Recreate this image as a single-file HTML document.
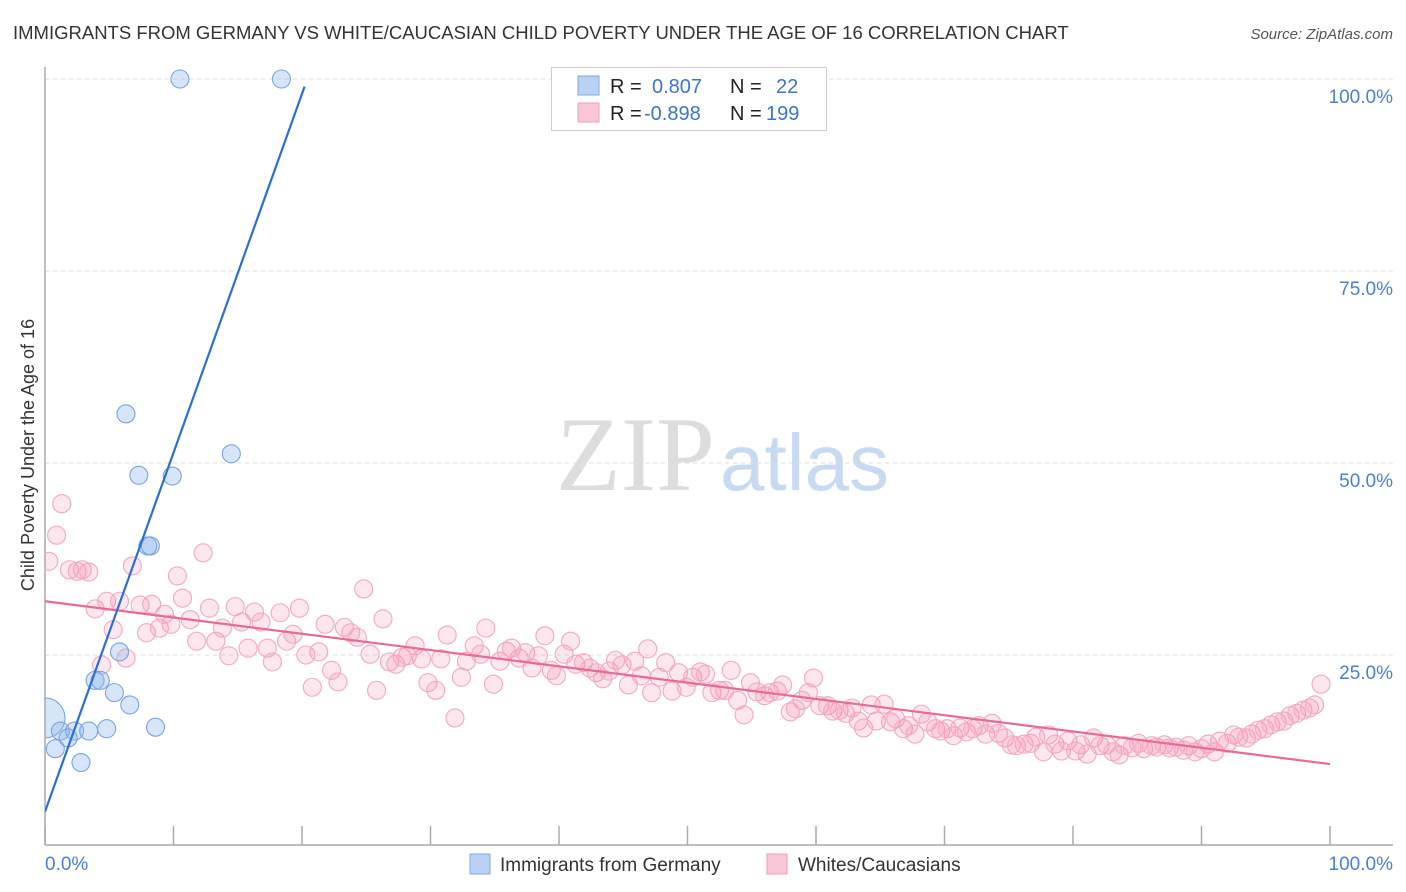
<!DOCTYPE html>
<html><head><meta charset="utf-8">
<style>
body{margin:0;background:#fff;font-family:"Liberation Sans",sans-serif;}
svg{display:block}
</style></head>
<body>
<svg id="chart" width="1406" height="892">
<defs><clipPath id="plotclip"><rect x="45" y="60" width="1350" height="785"/></clipPath></defs>
<text x="13" y="39" font-size="18.5" fill="#333">IMMIGRANTS FROM GERMANY VS WHITE/CAUCASIAN CHILD POVERTY UNDER THE AGE OF 16 CORRELATION CHART</text>
<text x="1393" y="39" font-size="15" fill="#555" font-style="italic" text-anchor="end">Source: ZipAtlas.com</text>
<text transform="translate(34,455) rotate(-90)" font-size="18" fill="#333" text-anchor="middle">Child Poverty Under the Age of 16</text>
<g>
<text x="715" y="490" font-size="106" fill="#ddd" font-family="Liberation Serif,serif" text-anchor="end">ZIP</text>
<text x="720" y="490" font-size="80" fill="#c8daf2">atlas</text>
</g>
<g id="grid"></g>
<g id="axes"></g>
<g id="marks" clip-path="url(#plotclip)"></g>
<g>
<rect x="551.5" y="67.5" width="275" height="63" fill="#fff" stroke="#ccc"/>
<rect x="578" y="76" width="21" height="19" fill="#b9d1f3" stroke="#7fa6e3"/>
<rect x="578" y="103" width="21" height="19" fill="#f8c6d6" stroke="#eea0ba"/>
<text x="610" y="93" font-size="20" fill="#222">R =</text>
<text x="652" y="93" font-size="20" fill="#3a74d4">0.807</text>
<text x="730" y="93" font-size="20" fill="#222">N =</text>
<text x="776" y="93" font-size="20" fill="#3a74d4">22</text>
<text x="610" y="120" font-size="20" fill="#222">R =</text>
<text x="644" y="120" font-size="20" fill="#3a74d4">-0.898</text>
<text x="730" y="120" font-size="20" fill="#222">N =</text>
<text x="766" y="120" font-size="20" fill="#3a74d4">199</text>
</g>
<g>
<rect x="470" y="854" width="20" height="20" fill="#b9d1f3" stroke="#7fa6e3"/>
<text x="500" y="871" font-size="19" fill="#333">Immigrants from Germany</text>
<rect x="767" y="854" width="20" height="20" fill="#f8c6d6" stroke="#eea0ba"/>
<text x="798" y="871" font-size="19" fill="#333">Whites/Caucasians</text>
</g>
</svg>
<script>
const yTicks=[25,50,75,100];
const yTickLabels=["25.0%","50.0%","75.0%","100.0%"];
const xTickVals=[0,10,20,30,40,50,60,70,80,90,100];
const xEndLabels=["0.0%","100.0%"];
const blueX=[10.5,18.4,6.3,14.5,7.3,9.9,8.0,8.2,5.8,3.9,4.3,5.4,6.6,0,1.2,2.3,3.4,4.8,8.6,1.8,0.8,2.8];
const blueY=[100,100,56.4,51.2,48.4,48.3,39.2,39.2,25.4,21.7,21.7,20.1,18.5,16.8,15.1,15.1,15.1,15.4,15.6,14.2,12.8,11.0];
const blueR=[9,9,9,9,9,9,9,9,9,9,9,9,9,20,9,9,9,9,9,9,9,9];
const blueTrend=[[0,4.6],[20.2,99.0]];
const pinkTrend=[[0,32.0],[100,10.8]];
const pinkX=[0.3,0.9,1.3,1.9,2.5,2.9,3.4,3.9,4.4,4.8,5.3,5.8,6.3,6.8,7.4,7.9,8.3,8.9,9.3,9.8,10.3,10.7,11.3,11.8,12.3,12.8,13.3,13.8,14.3,14.8,15.3,15.8,16.3,16.8,17.3,17.7,18.3,18.8,19.3,19.8,20.3,20.8,21.3,21.8,22.3,22.8,23.3,23.8,24.3,24.8,25.3,25.8,26.3,26.8,27.3,27.8,28.2,28.8,29.3,29.8,30.4,30.8,31.3,31.9,32.4,32.8,33.4,33.9,34.3,34.9,35.4,35.9,36.3,36.9,37.4,37.9,38.4,38.9,39.4,39.8,40.4,40.9,41.3,41.9,42.4,42.9,43.4,43.9,44.4,44.9,45.4,45.9,46.4,46.9,47.2,47.8,48.3,48.8,49.3,49.9,50.4,51.0,51.4,51.9,52.5,52.9,53.4,53.9,54.4,54.9,55.4,56.0,56.4,57.0,57.4,58.0,58.4,58.9,59.4,59.8,60.3,60.9,61.3,61.8,62.3,62.8,63.3,63.7,64.3,64.7,65.3,65.8,66.2,66.8,67.2,67.7,68.2,68.7,69.3,69.7,70.2,70.7,71.2,71.7,72.2,72.7,73.2,73.7,74.2,74.7,75.2,75.6,76.2,76.7,77.1,77.7,78.1,78.6,79.1,79.6,80.2,80.6,81.1,81.6,82.1,82.6,83.1,83.6,84.0,84.6,85.1,85.5,86.1,86.5,87.1,87.5,88.0,88.6,89.0,89.5,90.0,90.5,91.0,91.4,92.0,92.5,92.9,93.5,93.9,94.4,94.9,95.4,95.9,96.4,96.9,97.4,97.9,98.4,98.8,99.3];
const pinkY=[37.2,40.6,44.7,36.1,35.9,36.1,35.8,31.0,23.7,32.0,28.3,32.0,24.6,36.6,31.5,27.9,31.6,28.5,30.3,29.0,35.3,32.4,29.6,26.8,38.3,31.1,26.8,28.5,24.9,31.3,29.3,25.9,30.6,29.3,25.9,24.1,30.5,26.8,27.7,31.1,25.0,20.8,25.4,29.0,23.0,21.5,28.6,27.9,27.3,33.6,25.1,20.4,29.7,24.1,23.8,24.7,24.9,26.2,24.5,21.4,20.4,24.5,27.6,16.8,22.1,24.2,26.2,25.1,28.5,21.2,24.2,25.5,25.9,24.6,25.3,23.3,24.9,27.5,23.0,22.3,25.1,26.8,23.8,24.0,23.3,22.7,21.9,22.9,24.3,23.7,21.1,24.2,22.3,25.8,20.1,22.1,24.0,20.3,22.7,20.8,22.1,22.8,22.5,20.1,20.4,20.4,23.0,19.1,17.2,21.4,20.2,19.7,20.1,20.3,21.1,17.6,18.0,19.1,20.1,22.0,18.4,18.4,17.7,17.8,17.4,18.1,16.4,15.5,18.5,16.4,18.6,16.3,16.7,15.4,15.8,14.7,17.3,16.3,15.4,15.1,15.4,14.5,15.5,15.0,15.4,15.8,14.7,16.1,14.8,14.2,13.3,13.2,13.4,13.5,14.3,12.4,14.6,13.4,12.5,13.8,12.5,13.3,12.1,14.2,13.2,13.3,12.4,12.0,13.2,12.9,13.5,12.8,13.2,13.0,13.3,12.9,13.0,12.6,13.2,12.4,12.8,13.4,12.4,13.8,13.5,14.6,14.3,14.2,14.7,15.2,15.4,15.9,16.3,16.4,17.1,17.4,17.8,18.1,18.5,21.2];

const NS="http://www.w3.org/2000/svg";
const X0=45,XW=1285,Y0=847,YH=768;
function xs(v){return X0+v/100*XW;}
function ys(v){return Y0-v/100*YH;}
function mk(tag,attrs,parent){const e=document.createElementNS(NS,tag);for(const k in attrs)e.setAttribute(k,attrs[k]);parent.appendChild(e);return e;}
const grid=document.getElementById('grid'),axes=document.getElementById('axes'),marks=document.getElementById('marks');
yTicks.forEach((t,i)=>{
  const l=mk('line',{x1:45,x2:1393,y1:ys(t),y2:ys(t),stroke:'#ddd','stroke-dasharray':'4,4'},grid);
  
  
  const tx=mk('text',{x:1393,y:ys(t)+24,'font-size':19,fill:'#4a7fd8','text-anchor':'end'},axes);
  tx.textContent=yTickLabels[i];
  
  
});
const ax=mk('line',{x1:45,x2:1393,y1:845,y2:845,stroke:'#aaa','stroke-width':1.5},axes);


const ay=mk('line',{x1:45,x2:45,y1:67,y2:845,stroke:'#aaa','stroke-width':1.5},axes);


xTickVals.forEach(t=>{
  const l=mk('line',{x1:xs(t),x2:xs(t),y1:826,y2:845,stroke:'#aaa','stroke-width':1.5},axes);
  
  
});
const xl0=mk('text',{x:45,y:870,'font-size':19,fill:'#4a7fd8'},axes);xl0.textContent=xEndLabels[0];


const xl1=mk('text',{x:1393,y:870,'font-size':19,fill:'#4a7fd8','text-anchor':'end'},axes);xl1.textContent=xEndLabels[1];


pinkX.forEach((x,i)=>{
  const c=mk('circle',{cx:xs(x),cy:ys(pinkY[i]),r:9,fill:'rgba(244,143,177,0.22)',stroke:'#f4a8c1','stroke-width':1.1},marks);
  
  
});
blueX.forEach((x,i)=>{
  const c=mk('circle',{cx:xs(x),cy:ys(blueY[i]),r:blueR[i],fill:'rgba(140,180,235,0.35)',stroke:'#7aa3e2','stroke-width':1.1},marks);
  
  
});
const pl=mk('line',{x1:xs(pinkTrend[0][0]),y1:ys(pinkTrend[0][1]),x2:xs(pinkTrend[1][0]),y2:ys(pinkTrend[1][1]),stroke:'#e8699a','stroke-width':2.2},marks);


const bl=mk('line',{x1:xs(blueTrend[0][0]),y1:ys(blueTrend[0][1]),x2:xs(blueTrend[1][0]),y2:ys(blueTrend[1][1]),stroke:'#2a6fd6','stroke-width':2.2},marks);


</script>
</body></html>
